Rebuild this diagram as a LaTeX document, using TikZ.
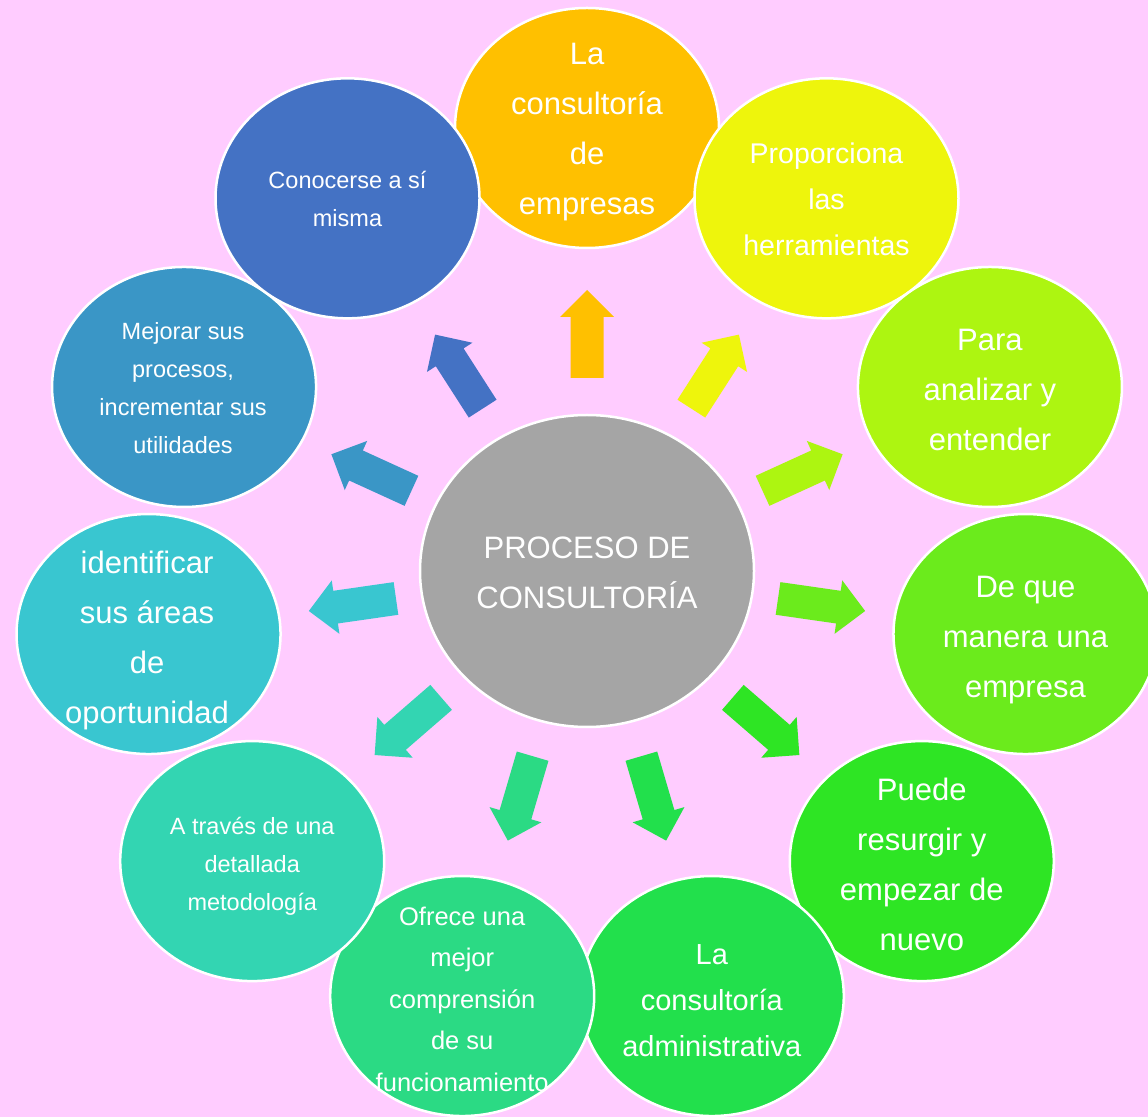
\documentclass[tikz,border=0pt]{standalone}
\usepackage{fontspec}
\setmainfont{Liberation Sans}
\usetikzlibrary{shapes.geometric,calc}
\definecolor{bg}{HTML}{FFCCFF}
\definecolor{c0}{HTML}{FFC000}
\definecolor{c1}{HTML}{EEF50C}
\definecolor{c2}{HTML}{ADF511}
\definecolor{c3}{HTML}{6BEB1C}
\definecolor{c4}{HTML}{2EE524}
\definecolor{c5}{HTML}{22E04C}
\definecolor{c6}{HTML}{2BDA84}
\definecolor{c7}{HTML}{33D5B2}
\definecolor{c8}{HTML}{39C6D0}
\definecolor{c9}{HTML}{3A96C6}
\definecolor{c10}{HTML}{4472C4}
\definecolor{cc}{HTML}{A5A5A5}
\begin{document}
\begin{tikzpicture}[x=1pt,y=1pt,
  bubble/.style={ellipse,draw=white,line width=2.5pt,inner sep=0pt,minimum width=264,minimum height=240},
  txt/.style={text=white,align=center,inner sep=0pt},
  big/.style={font=\fontsize{31}{50}\selectfont},
  mid/.style={font=\fontsize{28.5}{46}\selectfont},
  small/.style={font=\fontsize{23.5}{38}\selectfont},
]
\fill[bg] (0,0) rectangle (1148,1117);
\useasboundingbox (0,0) rectangle (1148,1117);
\coordinate (C) at (587,546);
% block arrows
\foreach \k/\col in {0/c0,1/c1,2/c2,3/c3,4/c4,5/c5,6/c6,7/c7,8/c8,9/c9,10/c10}{
  \pgfmathsetmacro\ang{90-32.7273*\k}
  \fill[\col,shift={(C)},shift={(\ang:237)},rotate=\ang]
    (-44,-16.5) -- (17,-16.5) -- (17,-27) -- (44,0) -- (17,27) -- (17,16.5) -- (-44,16.5) -- cycle;
}
% center
\node[bubble,fill=cc,minimum width=334,minimum height=312] (center) at (C) {};
\node[txt,big] (tc) at ([yshift=-2]center.center) {PROCESO DE\\CONSULTORÍA};
% outer bubbles
\node[bubble,fill=c0] (n0) at ($(C)+(90:443)$) {};
\node[txt,big] (t0) at ([yshift=-4]n0.center) {La\\consultoría\\de\\empresas};
\node[bubble,fill=c1] (n1) at ($(C)+(57.2727:443)$) {};
\node[txt,mid] (t1) at ([yshift=-1]n1.center) {Proporciona\\las\\herramientas};
\node[bubble,fill=c2] (n2) at ($(C)+(24.5454:443)$) {};
\node[txt,big] (t2) at ([yshift=-3]n2.center) {Para\\analizar y\\entender};
\node[bubble,fill=c3] (n3) at ($(C)+(-8.1818:443)$) {};
\node[txt,big] (t3) at ([yshift=-6]n3.center) {De que\\manera una\\empresa};
\node[bubble,fill=c4] (n4) at ($(C)+(-40.9091:443)$) {};
\node[txt,big] (t4) at ([yshift=-3]n4.center) {Puede\\resurgir y\\empezar de\\nuevo};
\node[bubble,fill=c5] (n5) at ($(C)+(-73.6364:443)$) {};
\node[txt,font=\fontsize{29}{46}\selectfont] (t5) at ([yshift=-4.5]n5.center) {La\\consultoría\\administrativa};
\node[bubble,fill=c6] (n6) at ($(C)+(-106.3636:443)$) {};
\node[txt,font=\fontsize{25.5}{41.5}\selectfont] (t6) at ([yshift=-3]n6.center) {Ofrece una\\mejor\\comprensión\\de su\\funcionamiento};
\node[bubble,fill=c7] (n7) at ($(C)+(-139.0909:443)$) {};
\node[txt,small] (t7) at ([yshift=-5]n7.center) {A través de una\\detallada\\metodología};
\node[bubble,fill=c8] (n8) at ($(C)+(-171.8182:443)$) {};
\node[txt,big] (t8) at ([xshift=-1.5,yshift=-6]n8.center) {identificar\\sus áreas\\de\\oportunidad};
\node[bubble,fill=c9] (n9) at ($(C)+(155.4545:443)$) {};
\node[txt,small] (t9) at ([xshift=-1,yshift=-1]n9.center) {Mejorar sus\\procesos,\\incrementar sus\\utilidades};
\node[bubble,fill=c10] (n10) at ($(C)+(122.7273:443)$) {};
\node[txt,small] (t10) at ([yshift=-0.5]n10.center) {Conocerse a sí\\misma};
\end{tikzpicture}
\end{document}
